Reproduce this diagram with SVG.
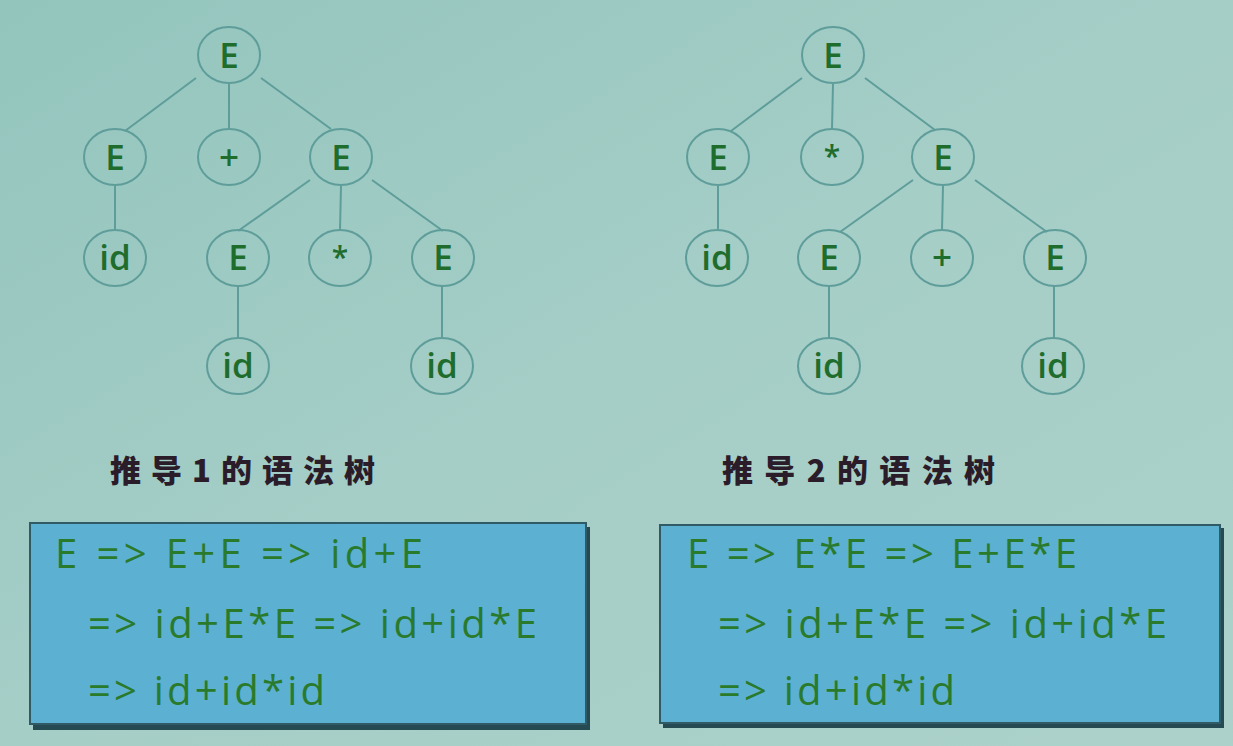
<svg xmlns="http://www.w3.org/2000/svg" width="1233" height="746" viewBox="0 0 1233 746">
<defs>
<linearGradient id="bg" x1="0" y1="0" x2="1" y2="1">
<stop offset="0" stop-color="#93c5bd"/>
<stop offset="0.5" stop-color="#a5cec7"/>
<stop offset="1" stop-color="#abd1ca"/>
</linearGradient>
<style>
.node ellipse{fill:none;stroke:#5f9d9a;stroke-width:2}
.node text{font-family:"Open Sans",Lato,sans-serif;font-weight:600;font-size:35px;fill:#1f6d2c;text-anchor:middle}
.node text.s{font-size:30px}
.edges line{stroke:#5f9d9a;stroke-width:2}
.cap{font-family:"Noto Sans CJK SC","Noto Sans CJK JP",sans-serif;font-weight:900;font-size:31px;fill:#2b1c2a}
.box rect.b{fill:#5cb0d2;stroke:#2f5a66;stroke-width:2}
.box text{font-family:"Open Sans",Lato,sans-serif;font-weight:500;font-size:40px;fill:#2a7a2c}
</style>
</defs>
<rect width="1233" height="746" fill="url(#bg)"/>

<g class="edges">
<line x1="196" y1="78" x2="125" y2="131"/>
<line x1="229" y1="84" x2="229" y2="129"/>
<line x1="261" y1="78" x2="331" y2="129"/>
<line x1="115" y1="186" x2="115" y2="229"/>
<line x1="310" y1="180" x2="238" y2="231"/>
<line x1="341" y1="186" x2="340" y2="230"/>
<line x1="372" y1="180" x2="443" y2="231"/>
<line x1="238" y1="286" x2="238" y2="338"/>
<line x1="442" y1="286" x2="442" y2="338"/>

<line x1="802" y1="78" x2="731" y2="131"/>
<line x1="833" y1="84" x2="832" y2="129"/>
<line x1="865" y1="78" x2="935" y2="130"/>
<line x1="718" y1="186" x2="718" y2="229"/>
<line x1="913" y1="180" x2="840" y2="232"/>
<line x1="943" y1="186" x2="942" y2="230"/>
<line x1="975" y1="180" x2="1047" y2="232"/>
<line x1="829" y1="286" x2="829" y2="338"/>
<line x1="1054" y1="286" x2="1054" y2="338"/>
</g>

<g id="t1-root" class="node"><ellipse cx="229" cy="55" rx="31" ry="28"/><text x="229" y="68">E</text></g>
<g id="t1-e1" class="node"><ellipse cx="115" cy="157" rx="31" ry="28"/><text x="115" y="170">E</text></g>
<g id="t1-plus" class="node"><ellipse cx="229" cy="157" rx="31" ry="28"/><text x="229" y="170">+</text></g>
<g id="t1-e2" class="node"><ellipse cx="341" cy="157" rx="31" ry="28"/><text x="341" y="170">E</text></g>
<g id="t1-id1" class="node"><ellipse cx="115" cy="258" rx="31" ry="28"/><text x="115" y="270">id</text></g>
<g id="t1-e3" class="node"><ellipse cx="238" cy="258" rx="31" ry="28"/><text x="238" y="270">E</text></g>
<g id="t1-star" class="node"><ellipse cx="340" cy="258" rx="31" ry="28"/><text class="s" x="340" y="268">*</text></g>
<g id="t1-e4" class="node"><ellipse cx="443" cy="258" rx="31" ry="28"/><text x="443" y="270">E</text></g>
<g id="t1-id2" class="node"><ellipse cx="238" cy="366" rx="31" ry="28"/><text x="238" y="378">id</text></g>
<g id="t1-id3" class="node"><ellipse cx="442" cy="366" rx="31" ry="28"/><text x="442" y="378">id</text></g>

<g id="t2-root" class="node"><ellipse cx="833" cy="55" rx="31" ry="28"/><text x="833" y="68">E</text></g>
<g id="t2-e1" class="node"><ellipse cx="718" cy="157" rx="31" ry="28"/><text x="718" y="170">E</text></g>
<g id="t2-star" class="node"><ellipse cx="832" cy="157" rx="31" ry="28"/><text class="s" x="832" y="167">*</text></g>
<g id="t2-e2" class="node"><ellipse cx="943" cy="157" rx="31" ry="28"/><text x="943" y="170">E</text></g>
<g id="t2-id1" class="node"><ellipse cx="717" cy="258" rx="31" ry="28"/><text x="717" y="270">id</text></g>
<g id="t2-e3" class="node"><ellipse cx="829" cy="258" rx="31" ry="28"/><text x="829" y="270">E</text></g>
<g id="t2-plus" class="node"><ellipse cx="942" cy="258" rx="31" ry="28"/><text x="942" y="270">+</text></g>
<g id="t2-e4" class="node"><ellipse cx="1055" cy="258" rx="31" ry="28"/><text x="1055" y="270">E</text></g>
<g id="t2-id2" class="node"><ellipse cx="829" cy="366" rx="31" ry="28"/><text x="829" y="378">id</text></g>
<g id="t2-id3" class="node"><ellipse cx="1053" cy="366" rx="31" ry="28"/><text x="1053" y="378">id</text></g>

<g id="cap1"><text class="cap" x="110" y="482" textLength="265" lengthAdjust="spacing">推导1的语法树</text></g>
<g id="cap2"><text class="cap" x="722" y="482" textLength="273" lengthAdjust="spacing">推导2的语法树</text></g>

<g id="box1" class="box">
<rect x="33" y="527" width="557" height="203" fill="#264a52"/>
<rect class="b" x="30" y="523" width="556" height="201"/>
<text x="55" y="568" textLength="368" lengthAdjust="spacing">E =&gt; E+E =&gt; id+E</text>
<text x="88" y="638" textLength="449" lengthAdjust="spacing">=&gt; id+E*E =&gt; id+id*E</text>
<text x="88" y="705" textLength="237" lengthAdjust="spacing">=&gt; id+id*id</text>
</g>

<g id="box2" class="box">
<rect x="663" y="528" width="561" height="200" fill="#264a52"/>
<rect class="b" x="660" y="525" width="560" height="198"/>
<text x="687" y="568" textLength="390" lengthAdjust="spacing">E =&gt; E*E =&gt; E+E*E</text>
<text x="718" y="638" textLength="449" lengthAdjust="spacing">=&gt; id+E*E =&gt; id+id*E</text>
<text x="718" y="705" textLength="237" lengthAdjust="spacing">=&gt; id+id*id</text>
</g>
</svg>
